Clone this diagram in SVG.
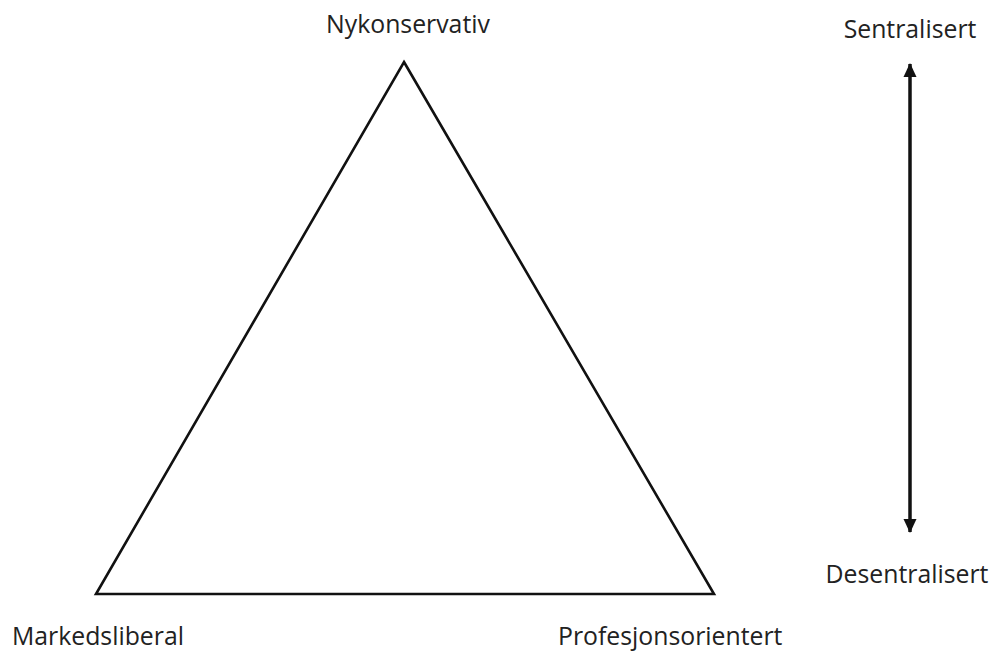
<svg xmlns="http://www.w3.org/2000/svg" width="992" height="652" viewBox="0 0 992 652">
<style>
text{font-family:"Open Sans","Noto Sans",sans-serif;font-size:24.8px;fill:#222}
.shape{fill:none;stroke:#111;stroke-width:2.6;stroke-linejoin:miter}
.axis{stroke:#111;stroke-width:3.5;fill:none}
</style>
<defs>
<marker id="ah" viewBox="0 0 14 14" refX="13" refY="7" markerWidth="14" markerHeight="14" orient="auto-start-reverse" markerUnits="userSpaceOnUse">
<path d="M0,0.5 L14,7 L0,13.5 z" fill="#111"/>
</marker>
</defs>
<rect width="992" height="652" fill="#fff"/>
<g id="triangle">
<polygon class="shape" points="404,62 714,594 96,594"/>
</g>
<g id="nykonservativ"><text x="408" y="33" text-anchor="middle">Nykonservativ</text></g>
<g id="markedsliberal"><text x="12" y="645">Markedsliberal</text></g>
<g id="profesjonsorientert"><text x="558" y="645">Profesjonsorientert</text></g>
<g id="sentralisert"><text x="910" y="38" text-anchor="middle">Sentralisert</text></g>
<g id="desentralisert"><text x="907" y="583" text-anchor="middle">Desentralisert</text></g>
<g id="connectors">
<line class="axis" x1="910" y1="64" x2="910" y2="532" marker-start="url(#ah)" marker-end="url(#ah)"/>
</g>
</svg>
